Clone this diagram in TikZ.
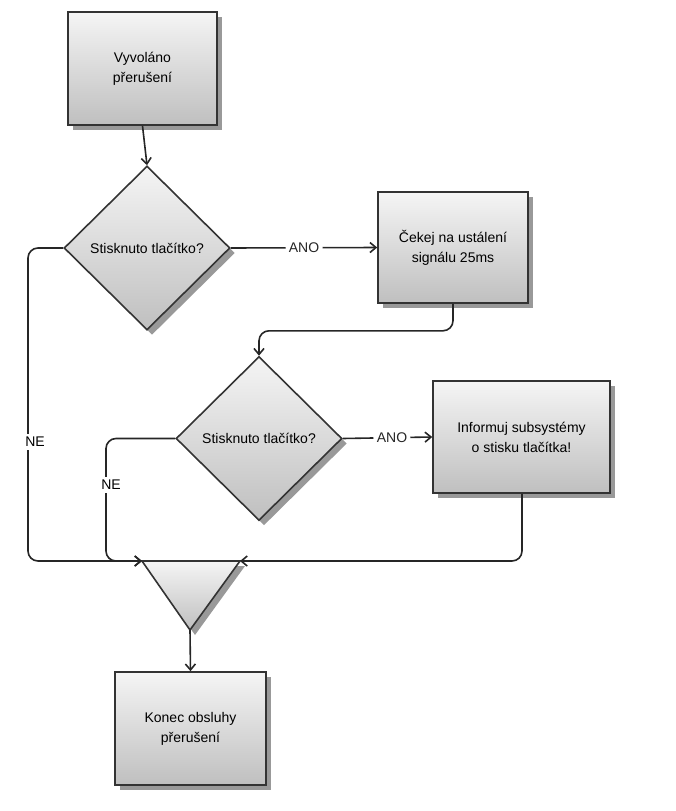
\documentclass[tikz,border=0pt]{standalone}
\usepackage{fontspec}
\setmainfont{Liberation Sans}
\usetikzlibrary{positioning, arrows.meta, shapes.geometric, shadows}

\begin{document}
\begin{tikzpicture}[x=1pt, y=-1pt,
    % Process box style
    procbox/.style={
        rectangle,
        draw=black!80,
        line width=1.6pt,
        top color=black!4,
        bottom color=black!25,
        drop shadow={shadow xshift=5pt, shadow yshift=-5pt, fill=black!40, opacity=1},
        minimum width=149pt,
        minimum height=113pt,
        align=center,
        font=\fontsize{14}{20}\selectfont
    },
    % Decision style
    decision/.style={
        diamond,
        draw=black!80,
        line width=1.6pt,
        top color=black!4,
        bottom color=black!25,
        drop shadow={shadow xshift=5pt, shadow yshift=-5pt, fill=black!40, opacity=1},
        minimum width=166pt,
        minimum height=164pt,
        inner sep=0pt
    },
    % Text style
    txt/.style={font=\fontsize{14}{20}\selectfont},
    % Arrow style
    arrow/.style={
        -{Straight Barb[length=6pt, width=10pt]},
        line width=1.6pt,
        black!85,
        rounded corners=10pt
    }
]
\useasboundingbox (0,0) rectangle (676,811);

% === Boxes ===
\node[procbox] (start) at (142.5, 68.5) {Vyvoláno\\přerušení};
\node[decision] (dec1) at (147, 248) {};
\node[txt] (dec1txt) at (147, 248) {Stisknuto tlačítko?};
\node[procbox, minimum width=150pt, minimum height=111pt] (wait) at (453, 247.5) {Čekej na ustálení\\signálu 25ms};
\node[decision] (dec2) at (259, 438.5) {};
\node[txt] (dec2txt) at (259, 438.5) {Stisknuto tlačítko?};
\node[procbox, minimum width=177pt, minimum height=112pt] (inform) at (521.5, 437) {Informuj subsystémy\\o stisku tlačítka!};
\node[procbox, minimum width=151pt] (stop) at (190.5, 728.5) {Konec obsluhy\\přerušení};

% === Merge triangle ===
\coordinate (mergel) at (142, 561);
\coordinate (merger) at (240, 561);
\coordinate (mergeb) at (190, 630);
\fill[black!40] (147, 566) -- (245, 566) -- (195, 635) -- cycle;
\filldraw[draw=black!80, line width=1.6pt, top color=black!4, bottom color=black!25]
    (mergel) -- (merger) -- (mergeb) -- cycle;

% === Connectors ===
\draw[arrow] (start.south) -- (dec1.north);
\draw[arrow] (dec1.east) -- node[txt, fill=white] (ano1) {ANO} (wait.west);
\draw[arrow] (wait.south) -- ++(0, 27) -| (dec2.north);
\draw[arrow] (dec2.east) -- node[txt, fill=white, pos=0.55] (ano2) {ANO} (inform.west);
\draw[arrow] (dec1.west) -| (28, 400) |- (mergel);
\node[txt, fill=white] (ne1) at (35, 442) {NE};
\draw[arrow] (dec2.west) -| (106, 470) |- (mergel);
\node[txt, fill=white] (ne2) at (111, 485) {NE};
\draw[arrow] (inform.south -| 522, 0) -- (522, 493) |- (merger);
\draw[arrow] (mergeb) -- (stop.north);

\end{tikzpicture}
\end{document}
